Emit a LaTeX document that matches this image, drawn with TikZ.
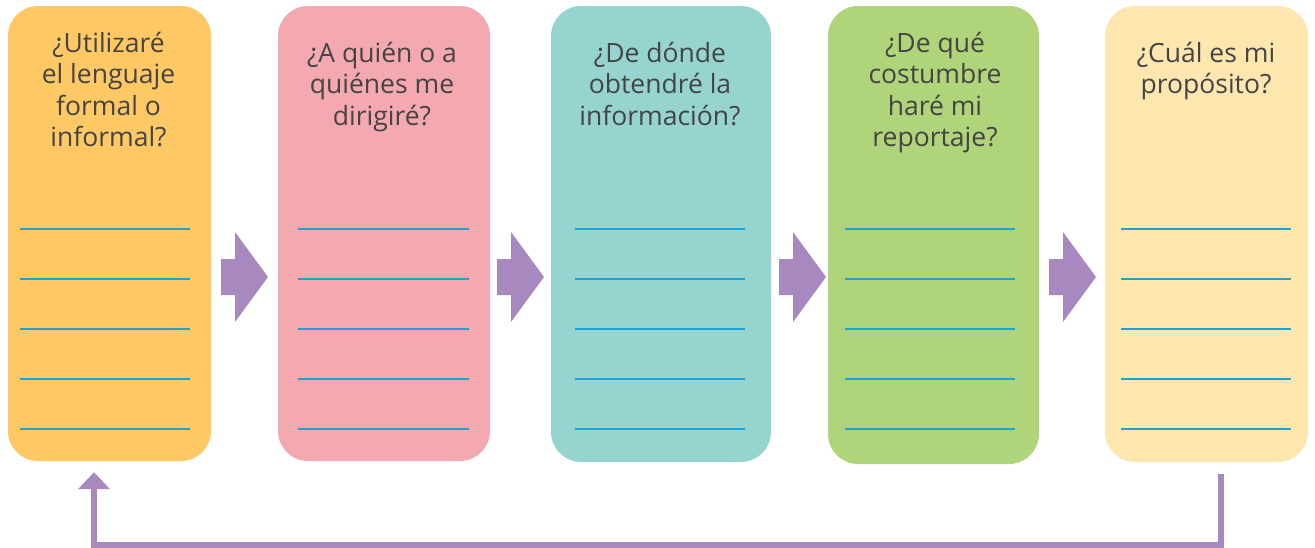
\documentclass[tikz,border=0pt]{standalone}
\usepackage{fontspec}
\setmainfont{Open Sans}
\usetikzlibrary{arrows.meta}
\definecolor{cbA}{HTML}{FEC965}
\definecolor{cbB}{HTML}{F4A9B0}
\definecolor{cbC}{HTML}{96D5CF}
\definecolor{cbD}{HTML}{B0D47A}
\definecolor{cbE}{HTML}{FDE7AF}
\definecolor{carrow}{HTML}{A889BF}
\definecolor{cline}{HTML}{1BA3D6}
\definecolor{ctext}{HTML}{444444}
\newcommand{\firststrut}{\rule{0pt}{22pt}}
\tikzset{
  qbox/.style={rounded corners=30pt, inner sep=0pt, draw=none},
  qtext/.style={anchor=north, inner sep=0pt, align=center, text=ctext,
    font=\fontsize{26.5}{31.5}\selectfont},
  wline/.style={draw=cline, line width=1.4pt},
  flow/.style={fill=carrow},
  back/.style={draw=carrow, line width=5.5pt, line join=miter,
    -{Triangle[width=31pt,length=17pt]}}
}
\begin{document}
\begin{tikzpicture}[x=1pt,y=-1pt]
\useasboundingbox (0,0) rectangle (1315,547);
% boxes
\node[qbox, fill=cbA, minimum width=203pt, minimum height=455pt] (b1) at (109.5,233.5) {};
\node[qbox, fill=cbB, minimum width=212pt, minimum height=455pt] (b2) at (384,233.5) {};
\node[qbox, fill=cbC, minimum width=220pt, minimum height=456pt] (b3) at (661,234) {};
\node[qbox, fill=cbD, minimum width=211pt, minimum height=458pt] (b4) at (933.5,235) {};
\node[qbox, fill=cbE, minimum width=203pt, minimum height=456pt] (b5) at (1206.5,234) {};
% texts
\node[qtext] (t1) at (108.5,30) {\firststrut¿Utilizaré\\el lenguaje\\formal o\\informal?};
\node[qtext] (t2) at (382,40) {\firststrut¿A quién o a\\quiénes me\\dirigiré?};
\node[qtext] (t3) at (660,40) {\firststrut¿De dónde\\obtendré la\\información?};
\node[qtext] (t4) at (935,30) {\firststrut¿De qué\\costumbre\\haré mi\\reportaje?};
\node[qtext] (t5) at (1206,40) {\firststrut¿Cuál es mi\\propósito?};
% writing lines
\foreach \xa/\xb in {20/190, 298/469, 575/745, 845/1015, 1121/1291}{
  \foreach \yy in {229,279,329,379,429}{
    \draw[wline] (\xa,\yy) -- (\xb,\yy);
  }
}
% flow arrows
\foreach \ax in {221,497,779,1049}{
  \fill[flow] (\ax,259) -- (\ax+14,259) -- (\ax+14,232) -- (\ax+47,277)
    -- (\ax+14,322) -- (\ax+14,295) -- (\ax,295) -- cycle;
}
% feedback arrow
\coordinate (s) at ([xshift=14.5pt,yshift=-12pt]b5.south);
\coordinate (e) at ([xshift=-15.5pt,yshift=-11pt]b1.south);
\draw[back] (s) -- (s |- 0,545) -- (e |- 0,545) -- (e);
\end{tikzpicture}
\end{document}
